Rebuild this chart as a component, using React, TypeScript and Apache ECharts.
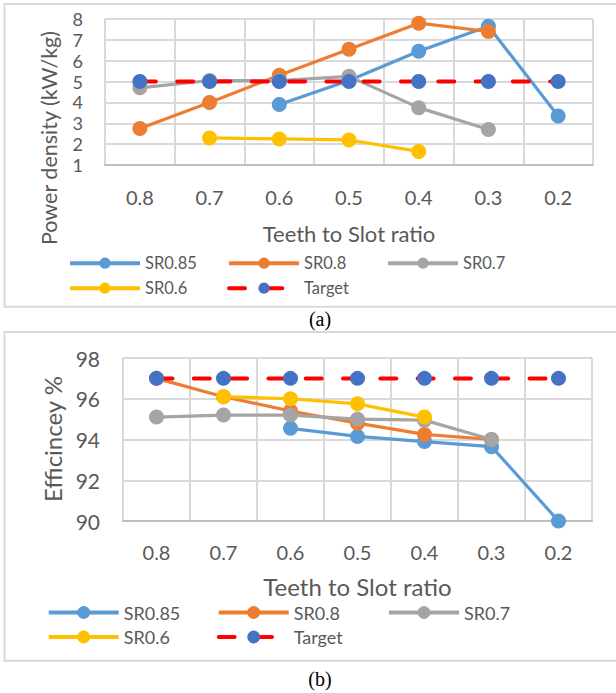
import React, { useEffect, useRef } from "react";
import * as echarts from "echarts";

const categories = ["0.8", "0.7", "0.6", "0.5", "0.4", "0.3", "0.2"];
const seriesNames = ["SR0.85", "SR0.8", "SR0.7", "SR0.6", "Target"];
const seriesColors = ["#5B9BD5", "#ED7D31", "#A5A5A5", "#FFC000", "#4472C4"];

// (a) Power density (kW/kg)
const powerSR085 = [null, null, 3.9, 5.05, 6.45, 7.65, 3.35];
const powerSR08 = [2.75, 4.0, 5.3, 6.55, 7.8, 7.4, null];
const powerSR07 = [4.7, 5.05, 5.05, 5.25, 3.75, 2.7, null];
const powerSR06 = [null, 2.3, 2.25, 2.2, 1.65, null, null];
const powerTarget = [5, 5, 5, 5, 5, 5, 5];

// (b) Efficiency %
const effSR085 = [null, null, 94.55, 94.15, 93.9, 93.65, 90.0];
const effSR08 = [97.0, 96.1, 95.4, 94.8, 94.25, 94.0, null];
const effSR07 = [95.1, 95.2, 95.2, 95.0, 94.95, 94.0, null];
const effSR06 = [null, 96.1, 96.0, 95.75, 95.1, null, null];
const effTarget = [97, 97, 97, 97, 97, 97, 97];

const FONT = 'Lato, "Noto Sans", sans-serif';
const TXT = "#595959";
const GRID = "#D9D9D9";

function makeSeries(idx: number, data: (number | null)[], name: string, color: string) {
  const isTarget = name === "Target";
  return {
    type: "line",
    name,
    xAxisIndex: idx,
    yAxisIndex: idx,
    data,
    symbol: "circle",
    symbolSize: 15,
    showSymbol: true,
    connectNulls: false,
    lineStyle: isTarget
      ? { color: "#FF0000", width: 4, type: [16, 21.3], cap: "round" }
      : { color, width: 3.2 },
    itemStyle: { color },
    emphasis: { disabled: true },
  };
}

function makeLegends(
  lefts: number[],
  tops: number[],
  itemHeight: number,
  fontSize: number
) {
  const pos = [
    [lefts[0], tops[0]],
    [lefts[1], tops[0]],
    [lefts[2], tops[0]],
    [lefts[0], tops[1]],
    [lefts[1], tops[1]],
  ];
  return seriesNames.map((n, i) => ({
    data: [n],
    left: pos[i][0],
    top: pos[i][1],
    orient: "horizontal",
    padding: 0,
    itemWidth: 70,
    itemHeight,
    selectedMode: false,
    lineStyle: { width: 4 },
    textStyle: {
      fontFamily: FONT,
      fontSize,
      color: TXT,
      lineHeight: itemHeight,
    },
  }));
}

export default function App() {
  const ref = useRef<HTMLDivElement>(null);

  useEffect(() => {
    document.body.style.margin = "0";
    if (!ref.current) return;
    const chart = echarts.init(ref.current, undefined, { renderer: "svg" });

    const data1 = [powerSR085, powerSR08, powerSR07, powerSR06, powerTarget];
    const data2 = [effSR085, effSR08, effSR07, effSR06, effTarget];

    const xAxisBase = (idx: number, margin: number, nameGap: number, nameSize: number) => ({
      type: "category",
      gridIndex: idx,
      data: categories,
      boundaryGap: true,
      axisTick: { show: false },
      axisLine: { show: true, lineStyle: { color: "#BFBFBF", width: 2 } },
      axisLabel: { fontFamily: FONT, fontSize: 20, color: TXT, margin, lineHeight: 20 },
      splitLine: { show: true, lineStyle: { color: GRID, width: 2 } },
      name: "Teeth to Slot ratio",
      nameLocation: "middle",
      nameGap,
      nameTextStyle: { fontFamily: FONT, fontSize: nameSize, color: TXT, lineHeight: nameSize },
    });

    const option = {
      animation: false,
      textStyle: { fontFamily: FONT },
      grid: [
        { left: 105, top: 19, width: 488, height: 146 },
        { left: 123, top: 358, width: 469, height: 163 },
      ],
      xAxis: [xAxisBase(0, 22, 57, 22), xAxisBase(1, 21, 53, 24)],
      yAxis: [
        {
          type: "value",
          gridIndex: 0,
          min: 1,
          max: 8,
          interval: 1,
          axisLine: { show: false },
          axisTick: { show: false },
          axisLabel: { fontFamily: FONT, fontSize: 18, color: TXT, margin: 22, lineHeight: 18 },
          splitLine: { show: true, lineStyle: { color: GRID, width: 2 } },
        },
        {
          type: "value",
          gridIndex: 1,
          min: 90,
          max: 98,
          interval: 2,
          axisLine: { show: false },
          axisTick: { show: false },
          axisLabel: { fontFamily: FONT, fontSize: 21, color: TXT, margin: 23, lineHeight: 22 },
          splitLine: { show: true, lineStyle: { color: GRID, width: 2 } },
        },
      ],
      legend: [
        ...makeLegends([68, 227, 386], [254.7, 279.7], 14, 16.5),
        ...makeLegends([46.7, 216.7, 387], [603.5, 628], 16, 18),
      ],
      series: [
        ...seriesNames.map((n, i) => makeSeries(0, data1[i], n, seriesColors[i])),
        ...seriesNames.map((n, i) => makeSeries(1, data2[i], n, seriesColors[i])),
      ],
      graphic: [
        {
          type: "rect",
          shape: { x: 4.5, y: 4, width: 614, height: 302.7 },
          style: { fill: "none", stroke: GRID, lineWidth: 2 },
          silent: true,
        },
        {
          type: "rect",
          shape: { x: 4.5, y: 332, width: 614, height: 328.7 },
          style: { fill: "none", stroke: GRID, lineWidth: 2 },
          silent: true,
        },
        {
          type: "text",
          x: 49,
          y: 138,
          rotation: Math.PI / 2,
          style: {
            text: "Power density (kW/kg)",
            fontFamily: FONT,
            fontSize: 21.5,
            lineHeight: 22,
            fill: TXT,
            align: "center",
            verticalAlign: "middle",
          },
        },
        {
          type: "text",
          x: 52,
          y: 439,
          rotation: Math.PI / 2,
          style: {
            text: "Efficincey %",
            fontFamily: FONT,
            fontSize: 24,
            lineHeight: 24,
            fill: TXT,
            align: "center",
            verticalAlign: "middle",
          },
        },
        {
          type: "text",
          x: 320,
          y: 319,
          style: {
            text: "(a)",
            fontFamily: '"Liberation Serif", "Times New Roman", serif',
            fontSize: 20,
            fill: "#000000",
            align: "center",
            verticalAlign: "middle",
          },
        },
        {
          type: "text",
          x: 320,
          y: 679,
          style: {
            text: "(b)",
            fontFamily: '"Liberation Serif", "Times New Roman", serif',
            fontSize: 20,
            fill: "#000000",
            align: "center",
            verticalAlign: "middle",
          },
        },
      ],
    };

    chart.setOption(option as any);
    return () => chart.dispose();
  }, []);

  return <div ref={ref} style={{ width: 616, height: 693 }} />;
}
